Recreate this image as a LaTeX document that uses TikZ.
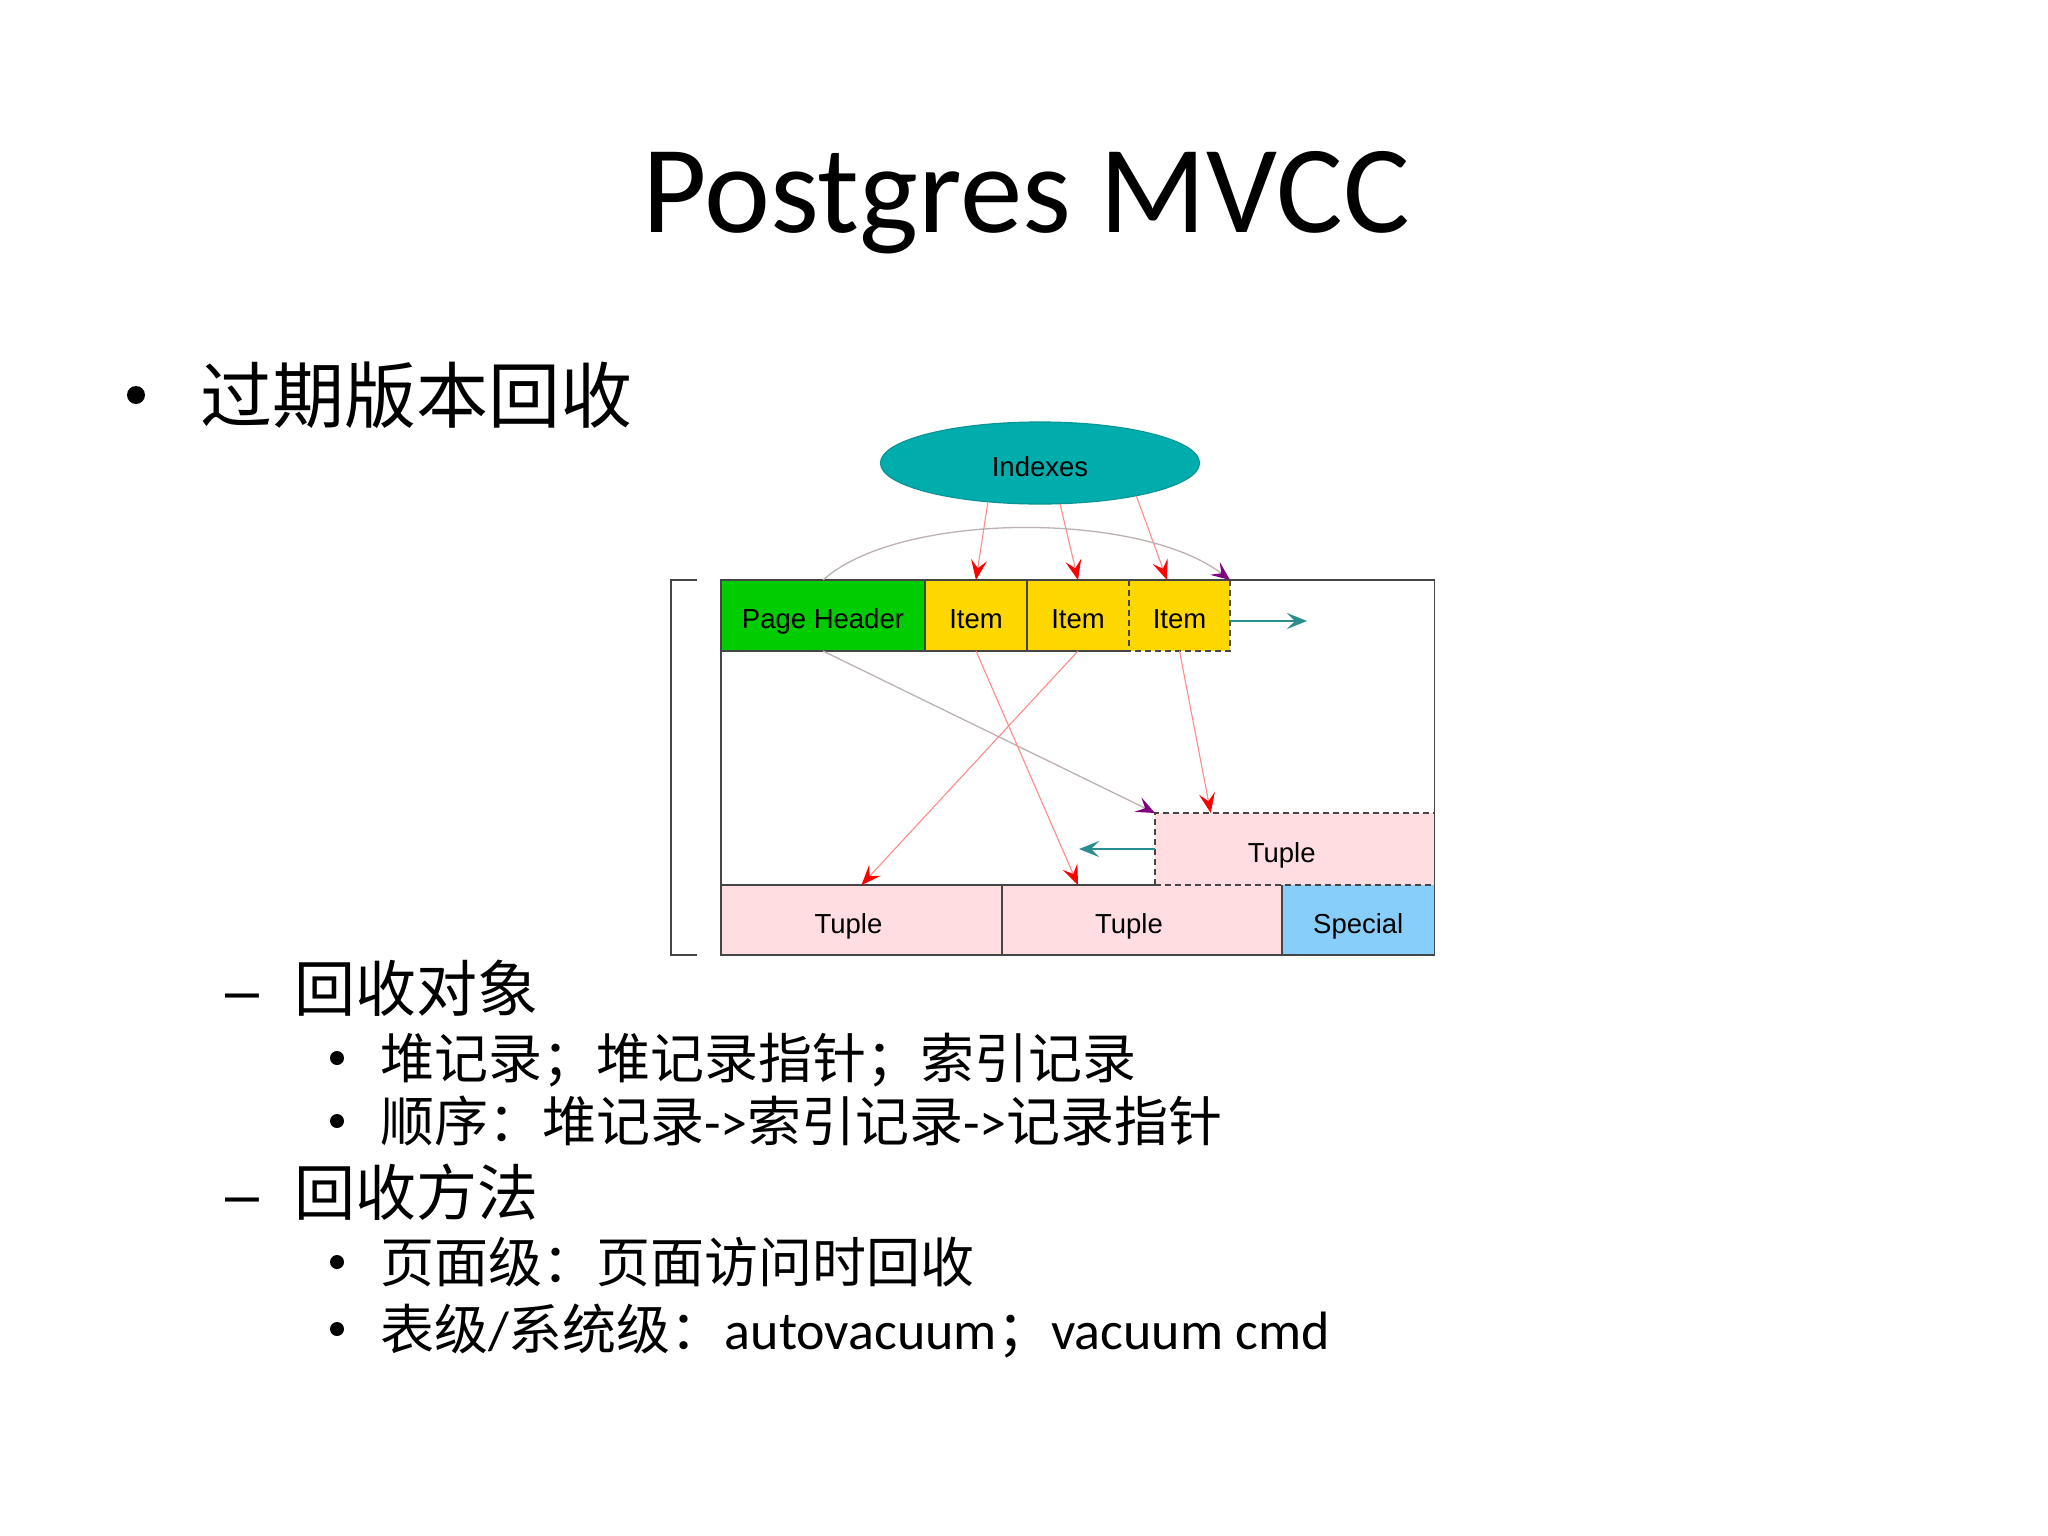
\documentclass[tikz,border=0pt]{standalone}
\usepackage{fontspec}
\setmainfont{Carlito}
\newfontfamily\cjk{Noto Sans CJK SC}
\newfontfamily\arialf{Liberation Sans}
\usetikzlibrary{arrows.meta,shapes.geometric,calc}
\definecolor{phgreen}{HTML}{00CC00}
\definecolor{itemyellow}{HTML}{FFD700}
\definecolor{tuplepink}{HTML}{FFDDE1}
\definecolor{specblue}{HTML}{87CEFA}
\definecolor{idxteal}{HTML}{00ADAD}
\definecolor{idxedge}{HTML}{0A9494}
\definecolor{arrteal}{HTML}{2A8E8E}
\definecolor{redln}{HTML}{FF8C8C}
\definecolor{grayln}{HTML}{BDB0B0}
\definecolor{purptip}{HTML}{800080}
\definecolor{pageln}{HTML}{454545}
\tikzset{
  cell/.style={rectangle, inner sep=0pt, outer sep=0pt, anchor=north west,
    font=\arialf\fontsize{27.5}{30}\selectfont, text=black, text height=26pt, text depth=0pt},
  txt/.style={inner sep=0pt, outer sep=0pt, anchor=base west},
  lvlone/.style={txt, font=\cjk\fontsize{72}{80}\selectfont},
  lvltwo/.style={txt, font=\cjk\fontsize{61}{70}\selectfont},
  lvlthree/.style={txt, font=\fontsize{54}{60}\selectfont},
  dashtxt/.style={txt, font=\arialf\fontsize{61}{70}\selectfont},
  bul/.style={circle, fill=black, inner sep=0pt, outer sep=0pt},
  pagebox/.style={draw=pageln, line width=1.8pt},
  dashbox/.style={draw=pageln, line width=1.8pt, dash pattern=on 6pt off 4pt},
  redarr/.style={draw=redln, line width=1.1pt, -{Stealth[length=20pt,width=16pt,inset=8pt,color=red]}},
  purparr/.style={draw=grayln, line width=1.3pt, -{Stealth[length=19pt,width=16pt,inset=8pt,color=purptip]}},
  tealarr/.style={draw=arrteal, line width=2pt, -{Stealth[length=20pt,width=16pt,inset=8pt,color=arrteal]}}
}
\begin{document}
\begin{tikzpicture}[x=1pt,y=-1pt]
\useasboundingbox[fill=white] (0,0) rectangle (2048,1536);

% title
\node[inner sep=0pt, anchor=base, font=\fontsize{125}{140}\selectfont] (title) at (1026,232) {Postgres MVCC};

% level 1
\node[bul, minimum size=18pt] (b1) at (136,395) {};
\node[lvlone] (l1) at (200,422) {过期版本回收};

% diagram
\node[ellipse, fill=idxteal, draw=idxedge, line width=1.2pt, minimum width=319pt, minimum height=82pt,
  inner sep=0pt, font=\arialf\fontsize{27.5}{30}\selectfont, text height=26pt, text depth=0pt] (idx) at (1040,463) {Indexes};

\node[cell, fill=phgreen, minimum width=204pt, minimum height=71pt] (ph) at (721,580) {Page Header};
\node[cell, fill=itemyellow, minimum width=102pt, minimum height=71pt] (i1) at (925,580) {Item};
\node[cell, fill=itemyellow, minimum width=102pt, minimum height=71pt] (i2) at (1027,580) {Item};
\node[cell, fill=itemyellow, minimum width=101pt, minimum height=71pt] (i3) at (1129,580) {Item};

\node[cell, fill=tuplepink, minimum width=279.5pt, minimum height=72pt] (dt) at (1155,813) {Tuple\hspace*{26pt}};
\node[cell, fill=tuplepink, minimum width=281pt, minimum height=70pt] (t1) at (721,885) {Tuple\hspace*{26pt}};
\node[cell, fill=tuplepink, minimum width=280pt, minimum height=70pt] (t2) at (1002,885) {Tuple\hspace*{26pt}};
\node[cell, fill=specblue, minimum width=152.5pt, minimum height=70pt] (sp) at (1282,885) {Special};

% page outline and cell borders
\draw[pagebox] (ph.north west) rectangle (sp.south east);
\draw[pagebox] (ph.north east) -- (ph.south east);
\draw[pagebox] (i1.north east) -- (i1.south east);
\draw[pagebox] (ph.south west) -- (i2.south east);
\draw[dashbox] (i2.north east) -- (i2.south east);
\draw[dashbox] (i3.north east) -- (i3.south east) -- (i2.south east);
\draw[pagebox] (t1.north west) -- (dt.south west);
\draw[dashbox] (dt.south west) -- (dt.south east);
\draw[dashbox] (dt.south west) -- (dt.north west) -- (dt.north east);
\draw[pagebox] (t1.north east) -- (t1.south east);
\draw[pagebox] (t2.north east) -- (t2.south east);

% left bracket
\draw[draw=pageln, line width=1.3pt] (697,580) -- (671,580) -- (671,955) -- (697,955);

% arrows from indexes
\draw[redarr] (idx.217) -- (i1.north);
\draw[redarr] (idx.296) -- (i2.north);
\draw[redarr] (idx.341) -- ([xshift=-12.5pt]i3.north);

% curve from page header to end of items
\draw[purparr] (ph.north) .. controls (900,511) and (1140,511) .. (i3.north east);

% lines inside page
\draw[purparr] (ph.south) -- (dt.north west);
\draw[redarr] (i1.south) -- ([xshift=-64pt]t2.north);
\draw[redarr] (i2.south) -- (t1.north);
\draw[redarr] (i3.south) -- ([xshift=-84pt]dt.north);

% teal arrows
\coordinate (tq1) at (1307,621);
\coordinate (tq2) at (1079,849);
\draw[tealarr] (i3.east |- tq1) -- (tq1);
\draw[tealarr] (dt.west |- tq2) -- (tq2);

% level 2 / 3 text
\node[dashtxt] (d1) at (225,1011) {–};
\node[lvltwo] (l2a) at (294,1011) {回收对象};
\node[bul, minimum size=14pt] (b2) at (337,1058) {};
\node[lvlthree] (l3a) at (380,1078) {\cjk 堆记录；堆记录指针；索引记录};
\node[bul, minimum size=14pt] (b3) at (337,1121) {};
\node[lvlthree] (l3b) at (380,1141.5) {{\cjk 顺序：堆记录}->{\cjk 索引记录}->{\cjk 记录指针}};

\node[dashtxt] (d2) at (225,1215) {–};
\node[lvltwo] (l2b) at (294,1215) {回收方法};
\node[bul, minimum size=14pt] (b4) at (337,1262) {};
\node[lvlthree] (l3c) at (380,1282) {\cjk 页面级：页面访问时回收};
\node[bul, minimum size=14pt] (b5) at (337,1329) {};
\node[lvlthree] (l3d) at (380,1349.5) {{\cjk 表级}/{\cjk 系统级：}autovacuum{\cjk ；}vacuum cmd};
\end{tikzpicture}
\end{document}
